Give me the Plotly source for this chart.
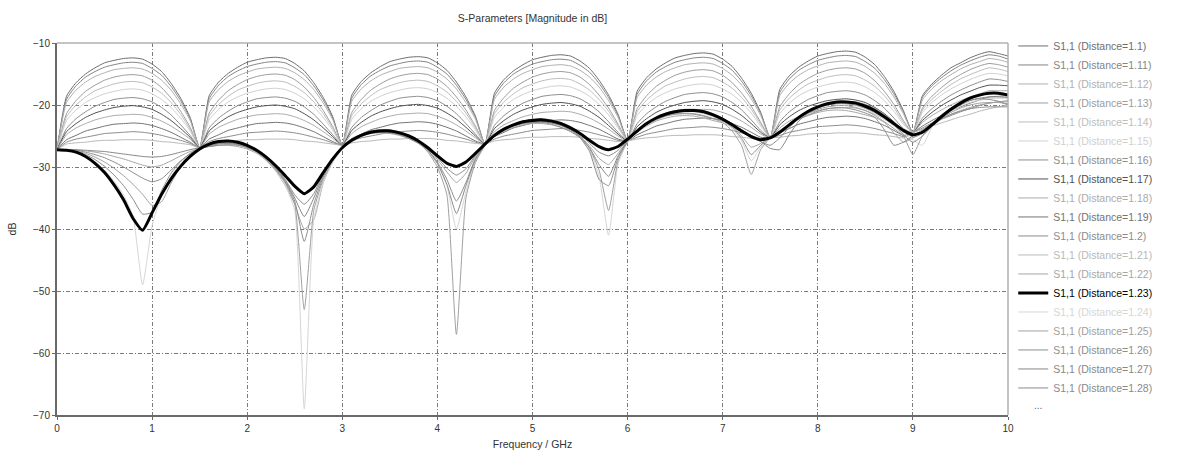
import plotly.graph_objects as go

# ---------------- data ----------------
FREQ_GHZ = [
    0.0, 0.1, 0.2, 0.3, 0.4, 0.5, 0.6, 0.7, 0.8, 0.9,
    1.0, 1.1, 1.2, 1.3, 1.4, 1.5, 1.6, 1.7, 1.8, 1.9,
    2.0, 2.1, 2.2, 2.3, 2.4, 2.5, 2.6, 2.7, 2.8, 2.9,
    3.0, 3.1, 3.2, 3.3, 3.4, 3.5, 3.6, 3.7, 3.8, 3.9,
    4.0, 4.1, 4.2, 4.3, 4.4, 4.5, 4.6, 4.7, 4.8, 4.9,
    5.0, 5.1, 5.2, 5.3, 5.4, 5.5, 5.6, 5.7, 5.8, 5.9,
    6.0, 6.1, 6.2, 6.3, 6.4, 6.5, 6.6, 6.7, 6.8, 6.9,
    7.0, 7.1, 7.2, 7.3, 7.4, 7.5, 7.6, 7.7, 7.8, 7.9,
    8.0, 8.1, 8.2, 8.3, 8.4, 8.5, 8.6, 8.7, 8.8, 8.9,
    9.0, 9.1, 9.2, 9.3, 9.4, 9.5, 9.6, 9.7, 9.8, 9.9,
    10.0,
]

S11_D1_10 = [
    -27.2,
    -18.6, -16.4, -15.0, -14.0, -13.2, -12.8, -12.5, -12.4, -12.6, -13.4, -14.6, -16.5, -18.9, -22.0,
    -26.9,
    -18.5, -16.3, -14.9, -13.9, -13.1, -12.7, -12.4, -12.3, -12.5, -13.3, -14.5, -16.4, -18.8, -21.9,
    -26.5,
    -18.4, -16.2, -14.8, -13.8, -13.0, -12.6, -12.3, -12.2, -12.4, -13.2, -14.4, -16.3, -18.7, -21.8,
    -26.3,
    -18.1, -15.9, -14.5, -13.5, -12.7, -12.3, -12.0, -11.9, -12.1, -12.9, -14.1, -16.0, -18.4, -21.5,
    -25.8,
    -17.8, -15.6, -14.2, -13.2, -12.4, -12.0, -11.7, -11.6, -11.8, -12.6, -13.8, -15.7, -18.1, -21.2,
    -25.3,
    -17.5, -15.3, -13.9, -12.9, -12.1, -11.7, -11.4, -11.3, -11.5, -12.3, -13.5, -15.4, -17.8, -20.9,
    -24.5,
    -18.5, -16.6, -15.2, -14.0, -13.2, -12.4, -11.8, -11.4, -11.7, -12.1,
]
S11_D1_11 = [
    -27.2,
    -19.1, -16.9, -15.5, -14.6, -13.9, -13.5, -13.2, -13.1, -13.3, -14.1, -15.2, -17.0, -19.3, -22.2,
    -26.9,
    -19.0, -16.8, -15.4, -14.5, -13.8, -13.4, -13.1, -13.0, -13.2, -14.0, -15.1, -16.9, -19.2, -22.1,
    -26.5,
    -18.9, -16.7, -15.3, -14.4, -13.7, -13.3, -13.0, -12.9, -13.1, -13.9, -15.0, -16.8, -19.1, -22.0,
    -26.3,
    -18.6, -16.4, -15.0, -14.1, -13.4, -13.0, -12.7, -12.6, -12.8, -13.6, -14.7, -16.5, -18.8, -21.7,
    -25.8,
    -18.3, -16.1, -14.7, -13.8, -13.1, -12.7, -12.4, -12.3, -12.5, -13.3, -14.4, -16.2, -18.5, -21.4,
    -25.3,
    -18.0, -15.8, -14.4, -13.5, -12.8, -12.4, -12.1, -12.0, -12.2, -13.0, -14.1, -15.9, -18.2, -21.1,
    -24.5,
    -18.8, -16.9, -15.6, -14.5, -13.6, -12.9, -12.3, -11.9, -12.1, -12.6,
]
S11_D1_12 = [
    -27.2,
    -19.6, -17.6, -16.3, -15.4, -14.8, -14.3, -14.1, -14.0, -14.2, -14.9, -16.0, -17.6, -19.8, -22.5,
    -26.9,
    -19.5, -17.5, -16.2, -15.3, -14.7, -14.2, -14.0, -13.9, -14.1, -14.8, -15.9, -17.5, -19.7, -22.4,
    -26.5,
    -19.4, -17.4, -16.1, -15.2, -14.6, -14.1, -13.9, -13.8, -14.0, -14.7, -15.8, -17.4, -19.6, -22.3,
    -26.3,
    -19.1, -17.1, -15.8, -14.9, -14.3, -13.8, -13.6, -13.5, -13.7, -14.4, -15.5, -17.1, -19.3, -22.0,
    -25.8,
    -18.8, -16.8, -15.5, -14.6, -14.0, -13.5, -13.3, -13.2, -13.4, -14.1, -15.2, -16.8, -19.0, -21.7,
    -25.3,
    -18.5, -16.5, -15.2, -14.3, -13.7, -13.2, -13.0, -12.9, -13.1, -13.8, -14.9, -16.5, -18.7, -21.4,
    -24.5,
    -19.2, -17.4, -16.1, -15.1, -14.2, -13.5, -13.0, -12.5, -12.7, -13.1,
]
S11_D1_13 = [
    -27.2,
    -21.4, -19.3, -17.8, -16.8, -16.0, -15.5, -15.2, -15.1, -15.3, -16.0, -17.2, -18.9, -21.0, -23.6,
    -26.9,
    -21.3, -19.2, -17.7, -16.7, -15.9, -15.4, -15.1, -15.0, -15.2, -15.9, -17.1, -18.8, -20.9, -23.5,
    -26.5,
    -21.2, -19.1, -17.6, -16.6, -15.8, -15.3, -15.0, -14.9, -15.1, -15.8, -17.0, -18.7, -20.8, -23.4,
    -26.3,
    -20.9, -18.8, -17.3, -16.3, -15.5, -15.0, -14.7, -14.6, -14.8, -15.5, -16.7, -18.4, -20.5, -23.1,
    -25.8,
    -20.6, -18.5, -17.0, -16.0, -15.2, -14.7, -14.4, -14.3, -14.5, -15.2, -16.4, -18.1, -20.2, -22.8,
    -25.3,
    -20.3, -18.2, -16.7, -15.7, -14.9, -14.4, -14.1, -14.0, -14.2, -14.9, -16.1, -17.8, -19.9, -22.5,
    -24.5,
    -20.5, -18.6, -17.2, -16.0, -15.1, -14.3, -13.7, -13.3, -13.5, -13.9,
]
S11_D1_14 = [
    -27.2,
    -21.9, -20.0, -18.7, -17.7, -17.1, -16.6, -16.3, -16.2, -16.4, -17.1, -18.1, -19.6, -21.5, -23.9,
    -26.9,
    -21.8, -19.9, -18.6, -17.6, -17.0, -16.5, -16.2, -16.1, -16.3, -17.0, -18.0, -19.5, -21.4, -23.8,
    -26.5,
    -21.7, -19.8, -18.5, -17.5, -16.9, -16.4, -16.1, -16.0, -16.2, -16.9, -17.9, -19.4, -21.3, -23.7,
    -26.3,
    -21.4, -19.5, -18.2, -17.2, -16.6, -16.1, -15.8, -15.7, -15.9, -16.6, -17.6, -19.1, -21.0, -23.4,
    -25.8,
    -21.1, -19.2, -17.9, -16.9, -16.3, -15.8, -15.5, -15.4, -15.6, -16.3, -17.3, -18.8, -20.7, -23.1,
    -25.3,
    -20.8, -18.9, -17.6, -16.6, -16.0, -15.5, -15.2, -15.1, -15.3, -16.0, -17.0, -18.5, -20.4, -22.8,
    -24.5,
    -20.8, -19.1, -17.8, -16.7, -15.8, -15.1, -14.5, -14.0, -14.2, -14.6,
]
S11_D1_15 = [
    -27.2,
    -22.5, -20.8, -19.6, -18.8, -18.2, -17.8, -17.5, -17.4, -17.6, -18.2, -19.1, -20.4, -22.1, -24.2,
    -26.9,
    -22.4, -20.7, -19.5, -18.7, -18.1, -17.7, -17.4, -17.3, -17.5, -18.1, -19.0, -20.3, -22.0, -24.1,
    -26.5,
    -22.3, -20.6, -19.4, -18.6, -18.0, -17.6, -17.3, -17.2, -17.4, -18.0, -18.9, -20.2, -21.9, -24.0,
    -26.3,
    -22.0, -20.3, -19.1, -18.3, -17.7, -17.3, -17.0, -16.9, -17.1, -17.7, -18.6, -19.9, -21.6, -23.7,
    -25.8,
    -21.7, -20.0, -18.8, -18.0, -17.4, -17.0, -16.7, -16.6, -16.8, -17.4, -18.3, -19.6, -21.3, -23.4,
    -25.3,
    -21.4, -19.7, -18.5, -17.7, -17.1, -16.7, -16.4, -16.3, -16.5, -17.1, -18.0, -19.3, -21.0, -23.1,
    -24.5,
    -21.2, -19.6, -18.4, -17.4, -16.6, -15.9, -15.3, -14.9, -15.0, -15.3,
]
S11_D1_16 = [
    -27.2,
    -23.8, -22.2, -21.1, -20.2, -19.6, -19.1, -18.9, -18.8, -19.0, -19.5, -20.4, -21.6, -23.2, -24.9,
    -26.9,
    -23.7, -22.1, -21.0, -20.1, -19.5, -19.0, -18.8, -18.7, -18.9, -19.4, -20.3, -21.5, -23.1, -24.8,
    -26.5,
    -23.6, -22.0, -20.9, -20.0, -19.4, -18.9, -18.7, -18.6, -18.8, -19.3, -20.2, -21.4, -23.0, -24.7,
    -26.3,
    -23.3, -21.7, -20.6, -19.7, -19.1, -18.6, -18.4, -18.3, -18.5, -19.0, -19.9, -21.1, -22.7, -24.4,
    -25.8,
    -23.0, -21.4, -20.3, -19.4, -18.8, -18.3, -18.1, -18.0, -18.2, -18.7, -19.6, -20.8, -22.4, -24.1,
    -25.3,
    -22.7, -21.1, -20.0, -19.1, -18.5, -18.0, -17.8, -17.7, -17.9, -18.4, -19.3, -20.5, -22.1, -23.8,
    -24.5,
    -22.1, -20.6, -19.4, -18.4, -17.6, -16.9, -16.3, -15.8, -15.9, -16.2,
]
S11_D1_17 = [
    -27.2,
    -24.3, -23.0, -22.0, -21.3, -20.8, -20.4, -20.2, -20.1, -20.3, -20.7, -21.5, -22.5, -23.8, -25.2,
    -26.9,
    -24.2, -22.9, -21.9, -21.2, -20.7, -20.3, -20.1, -20.0, -20.2, -20.6, -21.4, -22.4, -23.7, -25.1,
    -26.5,
    -24.1, -22.8, -21.8, -21.1, -20.6, -20.2, -20.0, -19.9, -20.1, -20.5, -21.3, -22.3, -23.6, -25.0,
    -26.3,
    -23.8, -22.5, -21.5, -20.8, -20.3, -19.9, -19.7, -19.6, -19.8, -20.2, -21.0, -22.0, -23.3, -24.7,
    -25.8,
    -23.5, -22.2, -21.2, -20.5, -20.0, -19.6, -19.4, -19.3, -19.5, -19.9, -20.7, -21.7, -23.0, -24.4,
    -25.3,
    -23.2, -21.9, -20.9, -20.2, -19.7, -19.3, -19.1, -19.0, -19.2, -19.6, -20.4, -21.4, -22.7, -24.1,
    -24.5,
    -22.5, -21.2, -20.1, -19.2, -18.4, -17.8, -17.2, -16.8, -16.8, -16.9,
]
S11_D1_18 = [
    -27.2,
    -24.8, -23.7, -23.0, -22.4, -22.0, -21.7, -21.6, -21.5, -21.6, -22.0, -22.6, -23.4, -24.4, -25.5,
    -26.9,
    -24.7, -23.6, -22.9, -22.3, -21.9, -21.6, -21.5, -21.4, -21.5, -21.9, -22.5, -23.3, -24.3, -25.4,
    -26.5,
    -24.6, -23.5, -22.8, -22.2, -21.8, -21.5, -21.4, -21.3, -21.4, -21.8, -22.4, -23.2, -24.2, -25.3,
    -26.3,
    -24.3, -23.2, -22.5, -21.9, -21.5, -21.2, -21.1, -21.0, -21.1, -21.5, -22.1, -22.9, -23.9, -25.0,
    -25.8,
    -24.0, -22.9, -22.2, -21.6, -21.2, -20.9, -20.8, -20.7, -20.8, -21.2, -21.8, -22.6, -23.6, -24.7,
    -25.3,
    -23.7, -22.6, -21.9, -21.3, -20.9, -20.6, -20.5, -20.4, -20.5, -20.9, -21.5, -22.3, -23.3, -24.4,
    -24.5,
    -22.8, -21.7, -20.8, -20.0, -19.3, -18.7, -18.2, -17.7, -17.7, -17.7,
]
S11_D1_19 = [
    -27.2,
    -25.6, -24.9, -24.2, -23.8, -23.4, -23.1, -23.0, -22.9, -23.0, -23.3, -23.8, -24.4, -25.2, -26.0,
    -26.9,
    -25.5, -24.8, -24.1, -23.7, -23.3, -23.0, -22.9, -22.8, -22.9, -23.2, -23.7, -24.3, -25.1, -25.9,
    -26.5,
    -25.4, -24.7, -24.0, -23.6, -23.2, -22.9, -22.8, -22.7, -22.8, -23.1, -23.6, -24.2, -25.0, -25.8,
    -26.3,
    -25.1, -24.4, -23.7, -23.3, -22.9, -22.6, -22.5, -22.4, -22.5, -22.8, -23.3, -23.9, -24.7, -25.5,
    -25.8,
    -24.8, -24.1, -23.4, -23.0, -22.6, -22.3, -22.2, -22.1, -22.2, -22.5, -23.0, -23.6, -24.4, -25.2,
    -25.3,
    -24.5, -23.8, -23.1, -22.7, -22.3, -22.0, -21.9, -21.8, -21.9, -22.2, -22.7, -23.3, -24.1, -24.9,
    -24.5,
    -23.4, -22.5, -21.7, -20.9, -20.3, -19.7, -19.2, -18.7, -18.6, -18.5,
]
S11_D1_20 = [
    -27.2,
    -26.0, -25.5, -25.2, -24.9, -24.6, -24.5, -24.4, -24.3, -24.4, -24.6, -24.9, -25.3, -25.7, -26.2,
    -26.9,
    -25.9, -25.4, -25.1, -24.8, -24.5, -24.4, -24.3, -24.2, -24.3, -24.5, -24.8, -25.2, -25.6, -26.1,
    -26.5,
    -25.8, -25.3, -25.0, -24.7, -24.4, -24.3, -24.2, -24.1, -24.2, -24.4, -24.7, -25.1, -25.5, -26.0,
    -26.3,
    -25.5, -25.0, -24.7, -24.4, -24.1, -24.0, -23.9, -23.8, -23.9, -24.1, -24.4, -24.8, -25.2, -25.7,
    -25.8,
    -25.2, -24.7, -24.4, -24.1, -23.8, -23.7, -23.6, -23.5, -23.6, -23.8, -24.1, -24.5, -24.9, -25.4,
    -25.3,
    -24.9, -24.4, -24.1, -23.8, -23.5, -23.4, -23.3, -23.2, -23.3, -23.5, -23.8, -24.2, -24.6, -25.1,
    -24.5,
    -23.7, -22.9, -22.3, -21.7, -21.1, -20.6, -20.1, -19.7, -19.5, -19.3,
]
S11_D1_21 = [
    -27.2,
    -26.3, -26.1, -26.0, -25.8, -25.7, -25.7, -25.6, -25.6, -25.6, -25.7, -25.9, -26.0, -26.2, -26.4,
    -26.9,
    -26.2, -26.0, -25.9, -25.7, -25.6, -25.6, -25.5, -25.5, -25.5, -25.6, -25.8, -25.9, -26.1, -26.3,
    -26.5,
    -26.1, -25.9, -25.8, -25.6, -25.5, -25.5, -25.4, -25.4, -25.4, -25.5, -25.7, -25.8, -26.0, -26.2,
    -26.3,
    -25.8, -25.6, -25.5, -25.3, -25.2, -25.2, -25.1, -25.1, -25.1, -25.2, -25.4, -25.5, -25.7, -25.9,
    -25.8,
    -25.5, -25.3, -25.2, -25.0, -24.9, -24.9, -24.8, -24.8, -24.8, -24.9, -25.1, -25.2, -25.4, -25.6,
    -25.3,
    -25.2, -25.0, -24.9, -24.7, -24.6, -24.6, -24.5, -24.5, -24.5, -24.6, -24.8, -24.9, -25.1, -25.3,
    -24.5,
    -23.9, -23.4, -22.9, -22.4, -21.9, -21.5, -21.0, -20.6, -20.3, -20.0,
]
S11_D1_22 = [
    -27.2, -27.2, -27.3, -27.4, -27.6, -27.9, -28.3, -28.7, -29.2, -29.7,
    -30.0, -29.7, -29.0, -28.2, -27.5, -27.0, -26.7, -26.5, -26.5, -26.7,
    -27.1, -27.8, -28.9, -30.6, -33.0, -36.0, -40.0, -38.5, -32.5, -29.0,
    -26.9, -25.7, -25.0, -24.6, -24.5, -24.6, -24.9, -25.4, -26.1, -27.0,
    -28.8, -30.8, -32.5, -31.0, -28.3, -26.4, -25.1, -24.2, -23.6, -23.2,
    -23.0, -23.0, -23.2, -23.6, -24.2, -25.0, -26.6, -28.6, -29.6, -27.8,
    -25.7, -24.4, -23.4, -22.6, -22.1, -21.8, -21.7, -21.8, -22.1, -22.5,
    -22.9, -23.5, -25.0, -26.8, -26.2, -25.1, -24.1, -23.1, -22.3, -21.7,
    -21.2, -20.9, -20.8, -20.9, -21.2, -21.6, -22.0, -22.8, -24.5, -26.0,
    -25.3, -24.2, -23.2, -22.3, -21.5, -20.9, -20.4, -20.0, -19.7, -19.5,
    -19.5,
]
S11_D1_23 = [
    -27.2, -27.3, -27.6, -28.3, -29.4, -30.9, -32.9, -35.3, -38.3, -40.2,
    -37.4, -34.4, -31.9, -29.9, -28.3, -27.1, -26.3, -25.9, -25.8, -26.0,
    -26.5, -27.3, -28.4, -29.8, -31.4, -33.1, -34.3, -33.2, -30.9, -28.7,
    -26.9, -25.7, -24.9, -24.4, -24.2, -24.2, -24.5, -25.0, -25.8, -26.9,
    -28.2, -29.4, -29.9, -29.2, -27.8, -26.3, -24.9, -23.9, -23.2, -22.7,
    -22.5, -22.4, -22.6, -23.0, -23.7, -24.6, -25.7, -26.7, -27.2, -26.7,
    -25.5, -24.2, -23.0, -22.1, -21.5, -21.1, -20.9, -20.9, -21.1, -21.6,
    -22.3, -23.2, -24.2, -25.1, -25.6, -25.3, -24.4, -23.2, -22.0, -21.0,
    -20.3, -19.8, -19.5, -19.5, -19.7, -20.2, -20.9, -21.9, -23.0, -24.1,
    -24.8, -24.4, -23.2, -21.9, -20.7, -19.7, -18.9, -18.4, -18.1, -18.1,
    -18.4,
]
S11_D1_24 = [
    -27.2, -27.3, -27.6, -28.2, -29.2, -30.5, -32.3, -34.5, -38.0, -49.0,
    -39.5, -34.5, -31.5, -29.4, -28.0, -27.0, -26.4, -26.1, -26.0, -26.2,
    -26.8, -27.7, -29.0, -30.7, -33.0, -37.0, -69.0, -38.5, -32.5, -29.3,
    -27.0, -25.6, -24.8, -24.3, -24.1, -24.2, -24.6, -25.2, -26.0, -27.4,
    -29.5, -33.0, -40.0, -34.0, -29.0, -26.5, -24.9, -23.8, -23.1, -22.7,
    -22.5, -22.5, -22.8, -23.3, -24.0, -25.3, -27.3, -31.5, -41.0, -29.5,
    -26.0, -24.3, -23.0, -22.1, -21.5, -21.2, -21.0, -21.1, -21.4, -21.9,
    -22.6, -23.8, -25.8, -29.0, -26.8, -25.2, -24.2, -23.0, -21.9, -21.0,
    -20.4, -20.0, -19.8, -19.8, -20.1, -20.6, -21.4, -22.3, -23.4, -24.6,
    -25.6, -26.5, -23.6, -22.0, -21.0, -20.2, -19.6, -19.2, -19.0, -18.9,
    -19.0,
]
S11_D1_25 = [
    -27.2, -27.2, -27.4, -27.8, -28.4, -29.2, -30.2, -31.4, -32.8, -34.4,
    -36.2, -35.6, -32.6, -30.0, -28.3, -27.2, -26.5, -26.2, -26.1, -26.2,
    -26.7, -27.6, -28.9, -30.5, -32.6, -36.0, -53.0, -37.0, -32.0, -29.0,
    -26.9, -25.6, -24.8, -24.4, -24.3, -24.4, -24.7, -25.3, -26.1, -27.6,
    -30.0, -34.5, -57.0, -35.0, -29.3, -26.6, -25.0, -24.0, -23.3, -22.9,
    -22.7, -22.7, -22.9, -23.3, -24.0, -25.2, -27.0, -30.5, -37.0, -29.0,
    -25.9, -24.3, -23.1, -22.3, -21.7, -21.4, -21.3, -21.4, -21.7, -22.2,
    -22.8, -24.2, -26.6, -31.2, -27.2, -25.3, -24.3, -23.1, -22.1, -21.3,
    -20.7, -20.3, -20.1, -20.1, -20.4, -20.9, -21.7, -22.7, -23.8, -25.0,
    -28.0, -25.0, -23.5, -22.2, -21.2, -20.5, -20.0, -19.7, -19.6, -19.6,
    -19.8,
]
S11_D1_26 = [
    -27.2, -27.2, -27.3, -27.6, -28.0, -28.5, -29.2, -30.0, -30.9, -31.8,
    -32.4, -31.9, -30.5, -29.0, -27.9, -27.1, -26.6, -26.3, -26.2, -26.4,
    -26.9, -27.6, -28.7, -30.3, -32.4, -35.5, -42.0, -36.0, -31.6, -28.8,
    -26.8, -25.5, -24.7, -24.2, -24.0, -24.1, -24.4, -25.0, -25.9, -27.2,
    -29.2, -32.0, -35.5, -32.5, -28.6, -26.4, -24.9, -23.9, -23.3, -22.9,
    -22.8, -22.8, -23.1, -23.6, -24.3, -25.3, -27.5, -32.0, -33.0, -28.5,
    -25.8, -24.3, -23.2, -22.4, -21.8, -21.5, -21.4, -21.5, -21.8, -22.2,
    -22.5, -23.6, -25.4, -28.0, -26.5, -25.2, -24.2, -23.2, -22.3, -21.6,
    -21.0, -20.6, -20.4, -20.5, -20.8, -21.3, -22.0, -24.0, -26.5, -26.0,
    -25.0, -24.0, -23.0, -22.2, -21.5, -21.0, -20.6, -20.4, -20.3, -20.3,
    -20.3,
]
S11_D1_27 = [
    -27.2, -27.2, -27.2, -27.3, -27.4, -27.5, -27.7, -27.9, -28.1, -28.3,
    -28.4, -28.3, -28.0, -27.6, -27.2, -26.9, -26.7, -26.5, -26.4, -26.5,
    -26.8, -27.4, -28.4, -30.2, -32.2, -35.0, -38.0, -35.0, -31.3, -28.6,
    -26.7, -25.5, -24.7, -24.2, -24.0, -24.0, -24.3, -24.9, -25.8, -27.3,
    -29.4, -32.8, -37.5, -33.0, -28.8, -26.5, -25.0, -24.0, -23.4, -23.0,
    -22.8, -22.7, -22.9, -23.3, -24.0, -25.1, -26.9, -29.6, -31.5, -28.2,
    -25.8, -24.2, -23.0, -22.2, -21.6, -21.2, -21.0, -21.0, -21.2, -21.6,
    -22.2, -23.0, -24.0, -24.9, -25.9, -27.0, -27.2, -24.8, -22.6, -21.3,
    -20.5, -20.0, -19.8, -19.8, -20.0, -20.5, -21.2, -22.1, -23.2, -24.8,
    -26.0, -25.0, -23.4, -22.0, -20.9, -20.0, -19.3, -18.9, -18.7, -18.7,
    -18.8,
]
S11_D1_28 = [
    -27.2, -27.3, -27.5, -28.0, -28.8, -29.9, -31.3, -33.0, -35.2, -37.6,
    -37.3, -33.8, -31.0, -29.1, -27.8, -27.0, -26.5, -26.2, -26.1, -26.3,
    -26.7, -27.4, -28.5, -30.0, -32.0, -34.5, -36.0, -34.3, -31.0, -28.5,
    -26.7, -25.6, -24.9, -24.5, -24.4, -24.5, -24.8, -25.4, -26.2, -27.2,
    -28.5, -30.2, -31.3, -30.3, -28.1, -26.2, -24.8, -23.8, -23.1, -22.6,
    -22.3, -22.2, -22.4, -22.8, -23.5, -24.5, -26.2, -27.6, -28.2, -27.3,
    -25.6, -24.1, -22.9, -22.0, -21.3, -20.9, -20.7, -20.7, -20.9, -21.4,
    -22.1, -23.0, -24.0, -25.0, -25.9, -26.5, -25.3, -23.6, -22.2, -21.1,
    -20.3, -19.8, -19.5, -19.4, -19.5, -19.9, -20.6, -21.6, -22.8, -24.0,
    -25.2, -24.6, -23.0, -21.6, -20.5, -19.7, -19.2, -19.0, -19.1, -19.4,
    -20.0,
]

DISTANCES = ["1.1", "1.11", "1.12", "1.13", "1.14", "1.15", "1.16", "1.17", "1.18", "1.19",
             "1.2", "1.21", "1.22", "1.23", "1.24", "1.25", "1.26", "1.27", "1.28"]
SERIES = [S11_D1_10, S11_D1_11, S11_D1_12, S11_D1_13, S11_D1_14, S11_D1_15, S11_D1_16,
          S11_D1_17, S11_D1_18, S11_D1_19, S11_D1_20, S11_D1_21, S11_D1_22, S11_D1_23,
          S11_D1_24, S11_D1_25, S11_D1_26, S11_D1_27, S11_D1_28]
LINE_COLORS = ["#6e6e6e", "#858585", "#b0b0b0", "#9c9c9c", "#bdbdbd", "#d0d0d0", "#8e8e8e",
               "#505050", "#ababab", "#737373", "#8c8c8c", "#b9b9b9", "#a6a6a6", "#000000",
               "#d6d6d6", "#a0a0a0", "#8e8e8e", "#878787", "#8a8a8a"]
HIGHLIGHT = "1.23"

for s in SERIES:
    if len(s) != len(FREQ_GHZ):
        raise ValueError("series length mismatch: %d" % len(s))

# ---------------- figure ----------------
FONT = "Liberation Sans, Arial, sans-serif"
fig = go.Figure()

order = [i for i, d in enumerate(DISTANCES) if d != HIGHLIGHT] + \
        [i for i, d in enumerate(DISTANCES) if d == HIGHLIGHT]
for i in order:
    d = DISTANCES[i]
    hl = d == HIGHLIGHT
    col = LINE_COLORS[i]
    txtcol = "#000000" if hl else col
    fig.add_trace(go.Scatter(
        x=FREQ_GHZ, y=SERIES[i], mode="lines",
        name='<span style="color:%s">S1,1 (Distance=%s)</span>' % (txtcol, d),
        line=dict(color=col, width=3 if hl else 1, shape="spline", smoothing=0.5),
        legendrank=i + 1,
        hoverinfo="skip",
    ))

grid_dash = "4px,2px,1px,2px"
fig.update_layout(
    width=1177, height=461,
    margin=dict(l=55, r=169, t=43, b=45),
    paper_bgcolor="white", plot_bgcolor="white",
    font=dict(family=FONT, size=10, color="#333333"),
    title=dict(text="S-Parameters [Magnitude in dB]", x=0.5, xref="paper",
               xanchor="center", y=1 - 18 / 461, yanchor="middle",
               font=dict(family=FONT, size=10.5, color="#333333")),
    showlegend=True,
    legend=dict(x=1.0055, y=1.031, xanchor="left", yanchor="top", maxheight=440,
                bgcolor="rgba(0,0,0,0)", font=dict(family=FONT, size=10.5),
                tracegroupgap=0, itemwidth=30),
    xaxis=dict(range=[0, 10], dtick=1, tick0=0, showgrid=True, gridcolor="#7a7a7a",
               griddash=grid_dash, gridwidth=1, zeroline=False,
               showline=True, linecolor="#6a6a6a", linewidth=2,
               ticks="outside", ticklen=3, tickcolor="#6a6a6a",
               tickfont=dict(size=10, color="#333333"),
               title=dict(text="Frequency / GHz", font=dict(size=10.5, color="#333333"), standoff=8)),
    yaxis=dict(range=[-70, -10], dtick=10, tick0=-10, showgrid=True, gridcolor="#7a7a7a",
               griddash=grid_dash, gridwidth=1, zeroline=False,
               showline=True, linecolor="#6a6a6a", linewidth=2,
               ticks="outside", ticklen=3, tickcolor="#6a6a6a",
               tickfont=dict(size=10, color="#333333"),
               title=dict(text="dB", font=dict(size=10.5, color="#333333"), standoff=14)),
    shapes=[
        dict(type="line", xref="paper", yref="paper", x0=0, x1=1, y0=1, y1=1,
             line=dict(color="#b0b0b0", width=1.5)),
        dict(type="line", xref="paper", yref="paper", x0=1, x1=1, y0=0, y1=1,
             line=dict(color="#b0b0b0", width=1.5)),
    ],
    annotations=[
        dict(text="...", xref="paper", yref="paper", x=(1038 - 55) / 953,
             y=1 - (406 - 43) / 373, xanchor="center", yanchor="middle",
             showarrow=False, font=dict(size=10, color="#666666")),
    ],
)

fig.write_html("out.html")
